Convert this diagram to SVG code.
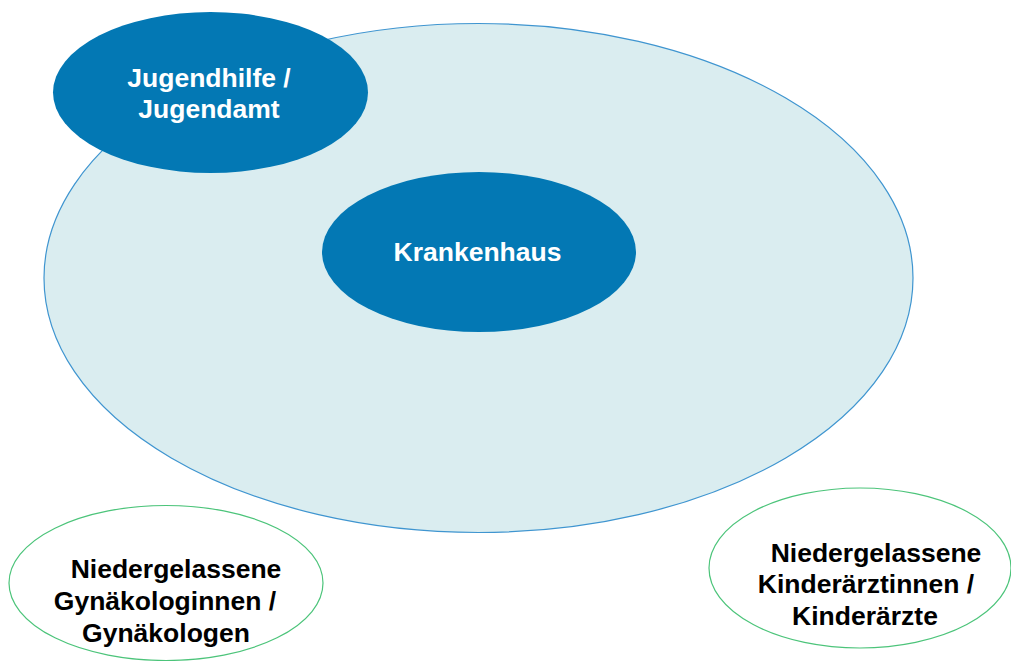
<svg xmlns="http://www.w3.org/2000/svg" width="1011" height="661" viewBox="0 0 1011 661">
<style>
.big{fill:#daedf0;stroke:#3f95d0;stroke-width:1.2}
.dark{fill:#0378b4}
.out{fill:#ffffff;stroke:#4cc47a;stroke-width:1.2}
text{font-family:"Liberation Sans",Arial,sans-serif;font-weight:bold;font-size:26.5px;text-anchor:middle}
.w{fill:#ffffff}
.k{fill:#000000}
</style>
<rect width="1011" height="661" fill="#ffffff"/>
<g id="connectors"></g>
<g id="umfeld">
<ellipse class="big" cx="478.5" cy="278" rx="434.5" ry="254.5"/>
</g>
<g id="jugendhilfe">
<ellipse class="dark" cx="210.5" cy="92.5" rx="157.5" ry="80.5"/>
<text class="w" x="209" y="87">Jugendhilfe /</text>
<text class="w" x="209" y="118">Jugendamt</text>
</g>
<g id="krankenhaus">
<ellipse class="dark" cx="479" cy="252" rx="157" ry="80"/>
<text class="w" x="477.5" y="260.5">Krankenhaus</text>
</g>
<g id="gynaekologen">
<ellipse class="out" cx="166" cy="583" rx="157" ry="77.5"/>
<text class="k" x="176" y="578">Niedergelassene</text>
<text class="k" x="165" y="610">Gynäkologinnen /</text>
<text class="k" x="166" y="642">Gynäkologen</text>
</g>
<g id="kinderaerzte">
<ellipse class="out" cx="860" cy="568" rx="151" ry="80"/>
<text class="k" x="876" y="562">Niedergelassene</text>
<text class="k" x="866" y="593">Kinderärztinnen /</text>
<text class="k" x="865" y="625">Kinderärzte</text>
</g>
</svg>
